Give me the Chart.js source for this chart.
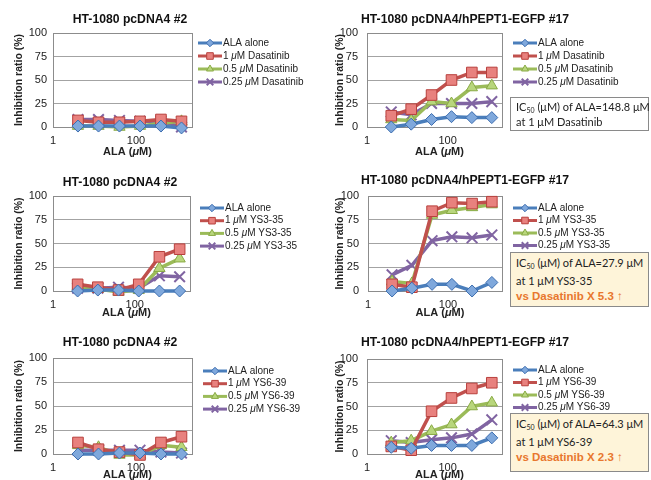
<!DOCTYPE html>
<html><head><meta charset="utf-8">
<script src="https://cdn.jsdelivr.net/npm/chart.js@4.4.1/dist/chart.umd.min.js"></script>
<style>
body{margin:0;background:#fff;}
#wrap{position:relative;width:651px;height:480px;overflow:hidden;background:#fff}
.panel{position:absolute}
.ic50{position:absolute;box-sizing:border-box;border:1px solid #8a8a8a;font-family:Lato,'Open Sans',sans-serif;font-size:11px;color:#222;padding:2px 0 0 5px;white-space:nowrap}
.ic50 sub{font-size:7px;vertical-align:baseline;position:relative;top:2px}
.ic50 .vs{font-family:'Liberation Sans',Arial,sans-serif;font-weight:bold;color:#E8772E;font-size:11.5px}
</style></head><body>
<div id="wrap"></div>
<script>
// ---------- data ----------
const concentrations = [4, 12.5, 40, 125, 400, 1250];   // ALA (uM)
const xTickValues = [1, 100];
const yTickValues = [0, 25, 50, 75, 100];
const cellLines = ['HT-1080 pcDNA4 #2', 'HT-1080 pcDNA4/hPEPT1-EGFP #17'];
const drugs = ['Dasatinib', 'YS3-35', 'YS6-39'];
const doseLabels = ['ALA alone', '1 μM ', '0.5 μM ', '0.25 μM '];
const xAxisTitle = 'ALA (μM)';
const yAxisTitle = 'Inhibition ratio (%)';

// Dasatinib, pcDNA4 #2
const dasaCtrlAlone = [1, 1, 1, 1, 1, -1];
const dasaCtrl1 = [7, 5, 5, 6, 8, 6];
const dasaCtrl05 = [1, 1, 0, 1, 4, 6];
const dasaCtrl025 = [8, 8, 7, 6, 6, 0];
// Dasatinib, hPEPT1-EGFP #17
const dasaPeptAlone = [0, 3, 8, 11, 10, 10];
const dasaPept1 = [12, 19, 34, 50, 58, 58];
const dasaPept05 = [8, 7, 27, 25, 42, 44];
const dasaPept025 = [16, 13, 25, 25, 25, 27];
// YS3-35, pcDNA4 #2
const ys335CtrlAlone = [0, 1, 1, 0, 0, 0];
const ys335Ctrl1 = [7, 4, 1, 7, 36, 44];
const ys335Ctrl05 = [5, 2, -1, 1, 24, 34];
const ys335Ctrl025 = [3, 3, 4, 3, 16, 15];
// YS3-35, hPEPT1-EGFP #17
const ys335PeptAlone = [0, 3, 7, 7, 0, 9];
const ys335Pept1 = [7, 4, 84, 93, 92, 94];
const ys335Pept05 = [10, 8, 80, 85, 88, 91];
const ys335Pept025 = [17, 27, 53, 57, 56, 59];
// YS6-39, pcDNA4 #2
const ys639CtrlAlone = [0, 0, 1, 1, 0, 0];
const ys639Ctrl1 = [12, 5, 2, -1, 12, 18];
const ys639Ctrl05 = [9, 7, -1, -1, 9, 7];
const ys639Ctrl025 = [4, 4, 4, 4, 2, 1];
// YS6-39, hPEPT1-EGFP #17
const ys639PeptAlone = [7, 6, 9, 9, 9, 17];
const ys639Pept1 = [8, 4, 45, 59, 69, 75];
const ys639Pept05 = [12, 14, 24, 31, 50, 54];
const ys639Pept025 = [14, 12, 15, 17, 21, 36];

const ic50Values = [148.8, 27.9, 64.3];
const foldVsDasatinib = [null, 5.3, 2.3];

// ---------- styles ----------
const FONT = '"Liberation Sans", Arial, sans-serif';
const seriesStyle = [
  {borderColor:'#4A7EBB', pointStyle:'rectRot', pointBackgroundColor:'#7FA8DC', pointBorderColor:'#3C6DAF', pointRadius:6, pointBorderWidth:1},
  {borderColor:'#C0504D', pointStyle:'rect', pointBackgroundColor:'#E8817E', pointBorderColor:'#B8403D', pointRadius:7.5, pointBorderWidth:1},
  {borderColor:'#9BBB59', pointStyle:'triangle', pointBackgroundColor:'#B8D67C', pointBorderColor:'#89AA45', pointRadius:6.5, pointBorderWidth:1},
  {borderColor:'#8064A2', pointStyle:'crossRot', pointBackgroundColor:'#8064A2', pointBorderColor:'#8064A2', pointRadius:7.5, pointBorderWidth:2}
];

function drawRich(ctx, text, x, y, font, align) {
  const parts = text.split('μ');
  const ital = font.replace(/^(bold )?/, '$1italic ');
  const m = (f, t) => { ctx.font = f; return ctx.measureText(t).width; };
  if (align === 'center') {
    let w = 0;
    parts.forEach((p, k) => { if (k > 0) w += m(ital, 'μ'); w += m(font, p); });
    x -= w / 2;
  }
  ctx.textAlign = 'left'; ctx.textBaseline = 'middle'; ctx.fillStyle = '#222';
  parts.forEach((p, k) => {
    if (k > 0) { ctx.font = ital; ctx.fillText('μ', x, y); x += ctx.measureText('μ').width; }
    ctx.font = font; ctx.fillText(p, x, y); x += ctx.measureText(p).width;
  });
}

const decor = {
  id: 'decor',
  beforeDatasetsDraw(chart) {
    const {ctx, chartArea: a} = chart;
    ctx.save();
    ctx.strokeStyle = '#8c8c8c'; ctx.lineWidth = 1;
    ctx.strokeRect(Math.round(a.left) + 0.5, Math.round(a.top) + 0.5, Math.round(a.right - a.left), Math.round(a.bottom - a.top));
    ctx.restore();
  },
  afterDraw(chart, args, o) {
    const ctx = chart.ctx, a = chart.chartArea;
    ctx.save();
    ctx.font = 'bold 12.2px ' + FONT;
    ctx.fillStyle = '#111'; ctx.textAlign = 'center'; ctx.textBaseline = 'middle';
    ctx.fillText(o.title, o.titleX, o.titleY);
    drawRich(ctx, xAxisTitle, (a.left + a.right) / 2 + 5, o.xTitleY, 'bold 11px ' + FONT, 'center');
    chart.data.datasets.forEach((ds, i) => {
      const y = o.legY + i * o.legDy;
      ctx.strokeStyle = ds.borderColor; ctx.lineWidth = 3;
      ctx.beginPath(); ctx.moveTo(o.legX, y); ctx.lineTo(o.legX + 24, y); ctx.stroke();
      ctx.fillStyle = ds.pointBackgroundColor; ctx.strokeStyle = ds.pointBorderColor; ctx.lineWidth = ds.pointBorderWidth;
      Chart.helpers.drawPoint(ctx, {pointStyle: ds.pointStyle, rotation: 0, radius: ds.pointRadius * 0.62, borderWidth: ds.pointBorderWidth}, o.legX + 12, y);
      drawRich(ctx, ds.label, o.legX + 25, y, '10px ' + FONT);
    });
    ctx.restore();
  }
};

const wrap = document.getElementById('wrap');

const panels = [
  {left:0, top:0, w:325, h:160, cell:0, drug:0, series:[dasaCtrlAlone, dasaCtrl1, dasaCtrl05, dasaCtrl025],
   plot:{l:53, t:33, r:192, b:127}, titleX:130, titleY:20, legX:198, legY:43, legDy:13, tickPad:6, ytp:12.5, xTitleY:152},
  {left:325, top:0, w:326, h:160, cell:1, drug:0, series:[dasaPeptAlone, dasaPept1, dasaPept05, dasaPept025],
   plot:{l:42, t:33, r:177, b:127}, titleX:140, titleY:20, legX:188, legY:43, legDy:13, tickPad:9, ytp:8.5, xTitleY:152},
  {left:0, top:160, w:325, h:160, cell:0, drug:1, series:[ys335CtrlAlone, ys335Ctrl1, ys335Ctrl05, ys335Ctrl025],
   plot:{l:53, t:36, r:190, b:131}, titleX:120, titleY:23, legX:200, legY:48, legDy:12.7, tickPad:6, ytp:12.5, xTitleY:153},
  {left:325, top:160, w:326, h:160, cell:1, drug:1, series:[ys335PeptAlone, ys335Pept1, ys335Pept05, ys335Pept025],
   plot:{l:43, t:36, r:177, b:131}, titleX:140, titleY:21, legX:188, legY:48, legDy:12.5, tickPad:9, ytp:8.5, xTitleY:153},
  {left:0, top:320, w:325, h:160, cell:0, drug:2, series:[ys639CtrlAlone, ys639Ctrl1, ys639Ctrl05, ys639Ctrl025],
   plot:{l:53, t:38, r:192, b:134}, titleX:120, titleY:23, legX:203, legY:51, legDy:12.7, tickPad:6, ytp:12.5, xTitleY:155},
  {left:325, top:320, w:326, h:160, cell:1, drug:2, series:[ys639PeptAlone, ys639Pept1, ys639Pept05, ys639Pept025],
   plot:{l:42, t:39, r:177, b:134}, titleX:140, titleY:23, legX:188, legY:50, legDy:12.5, tickPad:9, ytp:8.5, xTitleY:155}
];

panels.forEach(cfg => {
  const div = document.createElement('div');
  div.className = 'panel';
  div.style.left = cfg.left + 'px'; div.style.top = cfg.top + 'px';
  const canvas = document.createElement('canvas');
  canvas.width = cfg.w; canvas.height = cfg.h;
  canvas.style.width = cfg.w + 'px'; canvas.style.height = cfg.h + 'px';
  div.appendChild(canvas); wrap.appendChild(div);

  const datasets = cfg.series.map((vals, i) => Object.assign({
    label: doseLabels[i] + (i ? drugs[cfg.drug] : ''),
    data: vals.map((v, j) => ({x: concentrations[j], y: v})),
    borderWidth: 3.5, tension: 0, clip: false, fill: false
  }, seriesStyle[i]));

  new Chart(canvas, {
    type: 'line',
    data: {datasets},
    plugins: [decor],
    options: {
      responsive: false, animation: false, devicePixelRatio: 1,
      layout: {padding: {left: 0, top: cfg.plot.t, right: cfg.w - cfg.plot.r, bottom: 0}},
      plugins: {
        legend: {display: false}, tooltip: {enabled: false}, title: {display: false},
        decor: {title: cellLines[cfg.cell], titleX: cfg.titleX, titleY: cfg.titleY, legX: cfg.legX, legY: cfg.legY, legDy: cfg.legDy, xTitleY: cfg.xTitleY}
      },
      scales: {
        x: {
          type: 'logarithmic', min: 1, max: 2240,
          grid: {display: false, drawTicks: false}, border: {display: false},
          afterBuildTicks: s => { s.ticks = xTickValues.map(v => ({value: v})); },
          afterFit: s => { s.height = cfg.h - cfg.plot.b; },
          ticks: {padding: 7, color: '#222', font: {family: FONT, size: 11}, maxRotation: 0, autoSkip: false, callback: v => String(v)},
          title: {display: false}
        },
        y: {
          min: 0, max: 100,
          afterBuildTicks: s => { s.ticks = yTickValues.map(v => ({value: v})); },
          afterFit: s => { s.width = cfg.plot.l; },
          grid: {color: '#a3a3a3', drawTicks: false, lineWidth: 1},
          border: {display: false},
          ticks: {padding: cfg.tickPad, color: '#222', font: {family: FONT, size: 11}},
          title: {display: true, text: yAxisTitle, color: '#222', font: {family: FONT, size: 10.5, weight: 'bold'}, padding: {top: cfg.ytp, bottom: 0}}
        }
      }
    }
  });
});

// IC50 annotation boxes
const boxes = [
  {left:510, top:97, width:139, height:34, bg:'#ffffff', lh:14, idx:0},
  {left:510, top:252, width:139, height:55, bg:'#FEF4D9', lh:15.5, idx:1},
  {left:510, top:413, width:139, height:59, bg:'#FEF4D9', lh:15.5, idx:2}
];
boxes.forEach(b => {
  const d = document.createElement('div');
  d.className = 'ic50';
  Object.assign(d.style, {left: b.left + 'px', top: b.top + 'px', width: b.width + 'px', height: b.height + 'px', background: b.bg, lineHeight: b.lh + 'px'});
  let html = 'IC<sub>50</sub> (μM) of ALA=' + ic50Values[b.idx] + ' μM<br>at 1 μM ' + drugs[b.idx];
  if (foldVsDasatinib[b.idx] !== null) html += '<br><span class="vs">vs ' + drugs[0] + ' X ' + foldVsDasatinib[b.idx] + ' ↑</span>';
  d.innerHTML = html;
  wrap.appendChild(d);
});
</script>
</body></html>
